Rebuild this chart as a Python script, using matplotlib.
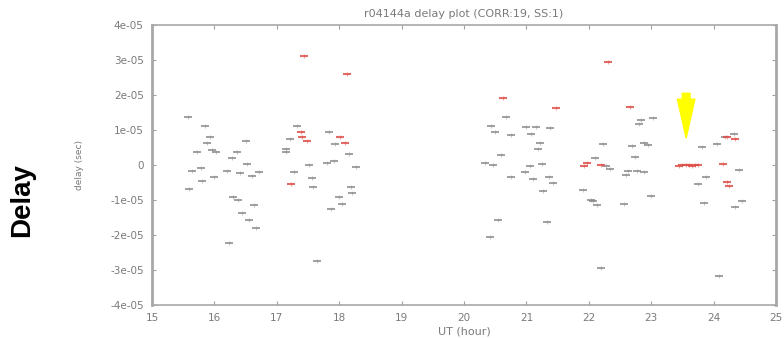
import matplotlib
matplotlib.use("Agg")
import matplotlib.pyplot as plt

# delay points (UT hour, delay in 1e-5 s)
gray_ut = [15.57, 15.85, 15.93, 15.88, 16.51, 15.72, 15.96, 16.03, 16.36, 16.28,
           16.52, 15.78, 15.64, 16.20, 16.41, 16.71, 16.60, 15.99, 15.80, 15.59,
           16.30, 16.38, 16.63, 16.44, 16.55, 16.67, 16.23,
           17.32, 17.21, 17.84, 17.94, 17.14, 17.15, 18.16, 17.52, 17.91, 17.80,
           18.27, 17.28, 17.56, 17.58, 18.19, 18.21, 17.99, 18.04, 17.87, 17.64,
           20.67, 20.43, 20.50, 20.76, 21.00, 21.15, 21.38, 21.07, 21.21, 21.18,
           20.59, 20.34, 20.47, 21.05, 21.25, 20.97, 20.75, 21.10, 21.36, 21.42,
           21.27, 20.55, 21.33, 20.42, 21.90, 22.03, 22.13,
           22.81, 22.83, 23.03, 22.23, 22.70, 22.89, 22.95, 22.74, 22.10, 22.28,
           22.34, 22.63, 22.77, 22.89, 22.60, 24.33, 24.18, 24.05, 23.82, 23.88,
           23.75, 24.41, 23.00, 22.07, 22.56, 23.85, 24.45, 24.35, 22.20, 24.08]
gray_delay = [1.38, 1.11, 0.80, 0.63, 0.69, 0.38, 0.43, 0.38, 0.38, 0.20,
              0.03, -0.08, -0.16, -0.17, -0.23, -0.20, -0.31, -0.34, -0.47, -0.69,
              -0.91, -1.00, -1.13, -1.36, -1.56, -1.80, -2.23,
              1.11, 0.75, 0.95, 0.59, 0.46, 0.38, 0.31, 0.00, 0.12, 0.05,
              -0.05, -0.19, -0.38, -0.64, -0.62, -0.79, -0.90, -1.12, -1.27, -2.73,
              1.38, 1.11, 0.95, 0.86, 1.10, 1.10, 1.07, 0.88, 0.64, 0.45,
              0.29, 0.07, 0.00, -0.03, 0.02, -0.19, -0.35, -0.41, -0.33, -0.52,
              -0.74, -1.57, -1.62, -2.05, -0.71, -1.00, -1.14,
              1.17, 1.30, 1.35, 0.60, 0.54, 0.64, 0.57, 0.22, 0.19, -0.03,
              -0.12, -0.16, -0.17, -0.20, -0.29, 0.89, 0.79, 0.59, 0.51, -0.35,
              -0.55, -0.14, -0.89, -1.03, -1.11, -1.08, -1.02, -1.21, -2.95, -3.17]

red_ut = [17.44, 18.13, 17.38, 17.41, 17.48, 18.01, 18.09, 17.22,
          20.63, 21.47, 21.97, 21.92, 22.20, 22.31, 22.66,
          23.45, 23.50, 23.55, 23.60, 23.65, 23.70, 23.75,
          24.15, 24.21, 24.34, 24.21, 24.25]
red_delay = [3.12, 2.60, 0.95, 0.79, 0.68, 0.81, 0.64, -0.54,
             1.92, 1.62, 0.07, -0.03, 0.00, 2.95, 1.65,
             -0.02, 0.00, -0.01, 0.00, -0.02, 0.00, -0.01,
             0.02, 0.81, 0.73, -0.48, -0.60]

x_ticks = list(range(15, 26))
y_ticks = [-4e-5, -3e-5, -2e-5, -1e-5, 0, 1e-5, 2e-5, 3e-5, 4e-5]
y_tick_labels = ["-4e-05", "-3e-05", "-2e-05", "-1e-05", "0",
                 "1e-05", "2e-05", "3e-05", "4e-05"]

plt.rcParams['font.family'] = ['DejaVu Sans']
txt = '#7a7a7a'

fig = plt.figure(figsize=(7.84, 3.38), dpi=100)
ax = fig.add_axes([152/784, 1-305/338, 624/784, 280/338])

# blurry dash-like markers, as in the scanned plot
ax.plot(gray_ut, [v*1e-5 for v in gray_delay], '_', color='#808080',
        markersize=6, mew=1.4, alpha=0.75, linestyle='none')
ax.plot(gray_ut, [v*1e-5 for v in gray_delay], '|', color='#909090',
        markersize=2.5, mew=0.8, alpha=0.5, linestyle='none')
ax.plot(red_ut, [v*1e-5 for v in red_delay], '_', color='#e0504a',
        markersize=6, mew=1.5, alpha=0.85, linestyle='none')
ax.plot(red_ut, [v*1e-5 for v in red_delay], '|', color='#e0504a',
        markersize=2.5, mew=0.8, alpha=0.5, linestyle='none')

ax.set_xlim(15, 25)
ax.set_ylim(-4e-5, 4e-5)
ax.set_xticks(x_ticks)
ax.set_yticks(y_ticks)
ax.set_yticklabels(y_tick_labels)
ax.tick_params(direction='in', length=3, width=0.8, colors='#a0a0a0',
               labelcolor=txt, labelsize=7.5, top=True, right=True, pad=6)
for s in ax.spines.values():
    s.set_color('#a8a8a8')
    s.set_linewidth(1.2)
ax.spines['left'].set_linewidth(2)
ax.spines['right'].set_linewidth(2)

ax.set_title('r04144a delay plot (CORR:19, SS:1)', fontsize=8, color=txt, pad=6)
ax.set_xlabel('UT (hour)', fontsize=8, color=txt, labelpad=2)
fig.text(80/784, 1-165/338, 'delay (sec)', rotation=90, fontsize=6.5,
         color=txt, ha='center', va='center')

fig.text(22/784, 1-200/338, 'Delay', rotation=90, fontsize=20, fontweight='bold',
         family='Liberation Sans', color='black', ha='center', va='center')

ax.annotate('', xy=(23.56, 0.77e-5), xytext=(23.56, 2.05e-5),
            arrowprops=dict(arrowstyle='simple,head_length=2.0,head_width=0.9,tail_width=0.4',
                            color='#ffff00', mutation_scale=14, shrinkA=0, shrinkB=0))

fig.savefig('out.png', dpi=100)
